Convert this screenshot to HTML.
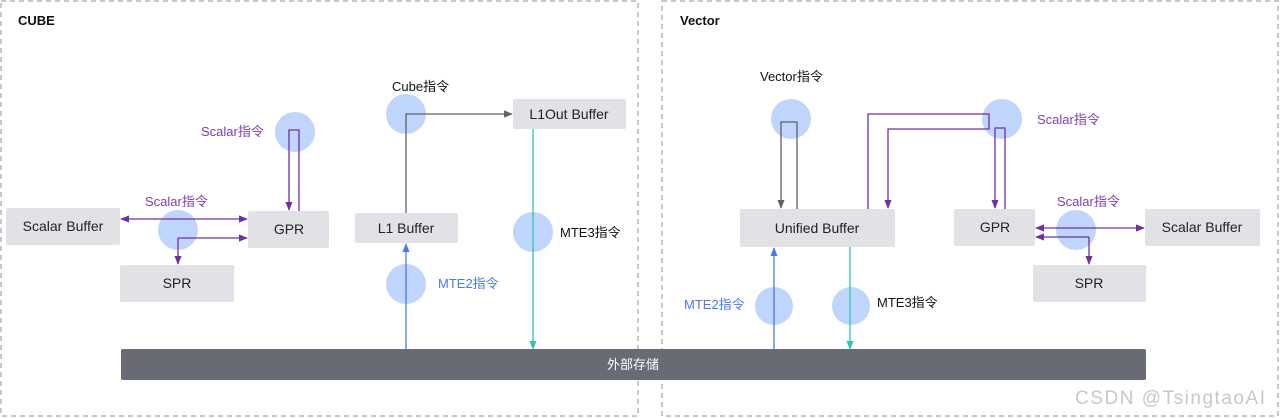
<!DOCTYPE html>
<html><head><meta charset="utf-8"><style>
html,body{margin:0;padding:0;background:#fff;}
svg{display:block;font-family:"Liberation Sans","Noto Sans CJK SC",sans-serif;}
</style></head><body>
<svg width="1280" height="418" viewBox="0 0 1280 418" xmlns="http://www.w3.org/2000/svg">
<defs>
<marker id="ap" viewBox="0 0 10 10" refX="9" refY="5" markerWidth="7" markerHeight="7" orient="auto-start-reverse"><path d="M0,1 L10,5 L0,9 z" fill="#7030a0"/></marker>
<marker id="ag" viewBox="0 0 10 10" refX="9" refY="5" markerWidth="7" markerHeight="7" orient="auto-start-reverse"><path d="M0,1 L10,5 L0,9 z" fill="#5f6268"/></marker>
<marker id="ab" viewBox="0 0 10 10" refX="9" refY="5" markerWidth="7" markerHeight="7" orient="auto-start-reverse"><path d="M0,1 L10,5 L0,9 z" fill="#4a78f0"/></marker>
<marker id="at" viewBox="0 0 10 10" refX="9" refY="5" markerWidth="7" markerHeight="7" orient="auto-start-reverse"><path d="M0,1 L10,5 L0,9 z" fill="#2ec4b0"/></marker>
</defs>
<rect x="1" y="1" width="637" height="415" fill="none" stroke="#b5b5b5" stroke-width="1.5" stroke-dasharray="5,4"/>
<rect x="662" y="1" width="616" height="415" fill="none" stroke="#b5b5b5" stroke-width="1.5" stroke-dasharray="5,4"/>
<text x="18" y="25" font-size="13" font-weight="bold" fill="#111">CUBE</text>
<text x="680" y="25" font-size="13" font-weight="bold" fill="#111">Vector</text>
<g fill="#c0d5fb">
<circle cx="295" cy="132" r="20"/><circle cx="178" cy="230" r="20"/><circle cx="406" cy="114" r="20"/>
<circle cx="533" cy="232" r="20"/><circle cx="406" cy="284" r="20"/><circle cx="791" cy="119" r="20"/>
<circle cx="1002" cy="119" r="20"/><circle cx="1076" cy="230" r="20"/><circle cx="774" cy="306" r="19"/><circle cx="851" cy="306" r="19"/>
</g>
<g fill="#e1e2e6">
<rect x="6" y="208" width="114" height="37" rx="2"/>
<rect x="248" y="211" width="81" height="37" rx="2"/>
<rect x="120" y="265" width="114" height="37" rx="2"/>
<rect x="355" y="213" width="103" height="30" rx="2"/>
<rect x="513" y="99" width="113" height="30" rx="2"/>
<rect x="740" y="209" width="155" height="38" rx="2"/>
<rect x="954" y="209" width="81" height="37" rx="2"/>
<rect x="1145" y="209" width="115" height="37" rx="2"/>
<rect x="1033" y="265" width="113" height="37" rx="2"/>
</g>
<rect x="121" y="349" width="1025" height="31" rx="2" fill="#686b73"/>
<g font-size="14" fill="#222" text-anchor="middle">
<text x="63" y="231">Scalar Buffer</text>
<text x="289" y="234">GPR</text>
<text x="177" y="288">SPR</text>
<text x="406" y="233">L1 Buffer</text>
<text x="569" y="119">L1Out Buffer</text>
<text x="817" y="233">Unified Buffer</text>
<text x="995" y="232">GPR</text>
<text x="1202" y="232">Scalar Buffer</text>
<text x="1089" y="288">SPR</text>
<text x="633" y="369" fill="#fff" font-size="13">外部存储</text>
</g>
<g fill="none" stroke-width="1.3">
<path d="M299,211 V130 H289 V210" stroke="#7030a0" marker-end="url(#ap)"/>
<path d="M121,219 H247" stroke="#7030a0" marker-start="url(#ap)" marker-end="url(#ap)"/>
<path d="M178,238 H247" stroke="#7030a0" marker-end="url(#ap)"/>
<path d="M178,238 V264" stroke="#7030a0" marker-end="url(#ap)"/>
<path d="M406,213 V114 H512" stroke="#5f6268" marker-end="url(#ag)"/>
<path d="M406,349 V244" stroke="#4a78f0" marker-end="url(#ab)"/>
<path d="M533,129 V349" stroke="#2ec4b0" marker-end="url(#at)"/>
<path d="M797,209 V122 H781 V208" stroke="#5f6268" marker-end="url(#ag)"/>
<path d="M868,209 V114 H989 V129 H888 V208" stroke="#7030a0" marker-end="url(#ap)"/>
<path d="M1005,209 V128 H995 V208" stroke="#7030a0" marker-end="url(#ap)"/>
<path d="M1036,228 H1144" stroke="#7030a0" marker-start="url(#ap)" marker-end="url(#ap)"/>
<path d="M1089,237 H1036" stroke="#7030a0" marker-end="url(#ap)"/>
<path d="M1089,237 V264" stroke="#7030a0" marker-end="url(#ap)"/>
<path d="M774,349 V248" stroke="#4a78f0" marker-end="url(#ab)"/>
<path d="M850,247 V349" stroke="#2ec4b0" marker-end="url(#at)"/>
</g>
<g font-size="13">
<text x="201" y="136" fill="#7b3fb0">Scalar指令</text>
<text x="145" y="206" fill="#7b3fb0">Scalar指令</text>
<text x="1037" y="124" fill="#7b3fb0">Scalar指令</text>
<text x="1057" y="206" fill="#7b3fb0">Scalar指令</text>
<text x="392" y="91" fill="#111">Cube指令</text>
<text x="760" y="81" fill="#111">Vector指令</text>
<text x="560" y="237" fill="#111">MTE3指令</text>
<text x="877" y="307" fill="#111">MTE3指令</text>
<text x="438" y="288" fill="#4a78f0">MTE2指令</text>
<text x="684" y="309" fill="#4a78f0">MTE2指令</text>
</g>
<text x="1075" y="404" font-size="19" fill="#c8c8c8" textLength="190">CSDN @TsingtaoAI</text>
</svg>
</body></html>
